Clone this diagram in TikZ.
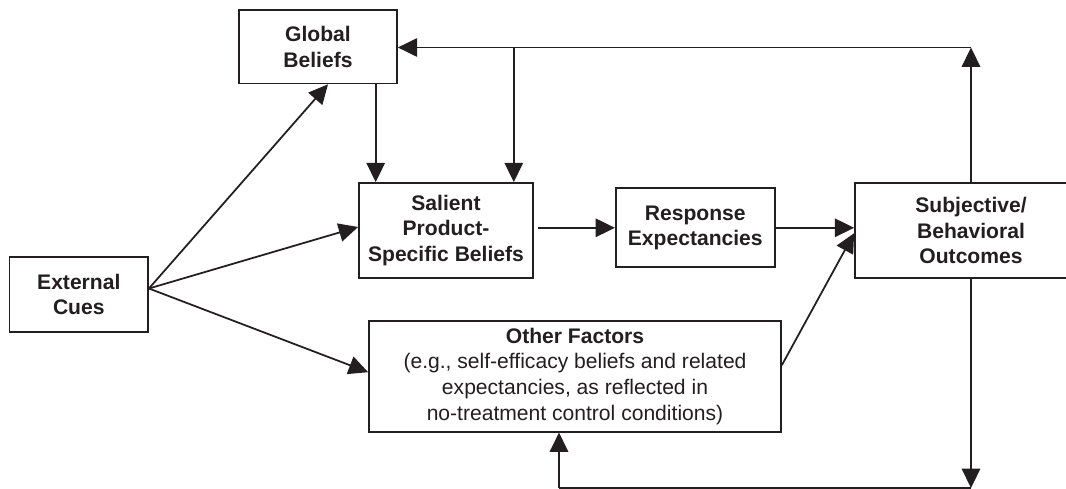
\documentclass[tikz,border=0pt]{standalone}
\usepackage{fontspec}
\setmainfont{Liberation Sans}
\usetikzlibrary{arrows.meta,calc}
\definecolor{ink}{HTML}{231F20}
\begin{document}
\begin{tikzpicture}[x=0.02cm,y=-0.02cm,
  box/.style={draw=ink,line width=1pt,inner sep=0pt,align=center,text=ink,
    font=\fontsize{12}{14.6}\selectfont},
  boldbox/.style={box,font=\fontsize{12}{14.6}\selectfont\bfseries},
  arr/.style={draw=ink,line width=1pt,-{Triangle[length=11pt,width=10.5pt]}},
  ln/.style={draw=ink,line width=1pt}]
\useasboundingbox (0,0) rectangle (1066,489);
\fill[white] (0,0) rectangle (1066,489);
\clip (0,0) rectangle (1066,489);
% nodes
\node[boldbox,minimum width=3.16cm,minimum height=1.47cm] (glob) at (318,46.7) {Global\\Beliefs};
\node[boldbox,minimum width=3.48cm,minimum height=1.9cm] (sal) at (446,230.5) {Salient\\Product-\\Specific Beliefs};
\node[boldbox,minimum width=2.77cm,minimum height=1.49cm] (ext) at (78.8,294.5) {External\\Cues};
\node[boldbox,minimum width=3.18cm,minimum height=1.58cm] (resp) at (695.3,227.8) {Response\\Expectancies};
\node[boldbox,minimum width=4.64cm,minimum height=1.9cm] (subj) at (971,230.7) {Subjective/\\Behavioral\\Outcomes};
\node[box,minimum width=8.24cm,minimum height=2.22cm] (other) at (575,376.2)
  {\textbf{Other Factors}\\(e.g., self-efficacy beliefs and related\\expectancies, as reflected in\\no-treatment control conditions)};
% helper coordinates
\coordinate (gx) at (375.7,0);
\coordinate (tr) at (971,47.5);
\coordinate (tj) at (513.8,47.5);
\coordinate (br) at (971,488);
\coordinate (bl) at (559,488);
% connectors from External Cues
\draw[arr] ([yshift=0.12cm]ext.east) -- ([xshift=0.2cm]glob.south);
\draw[arr] ([yshift=0.12cm]ext.east) -- ([yshift=0.07cm]sal.west);
\draw[arr] ([yshift=0.12cm]ext.east) -- ([yshift=0.08cm]other.west);
% Global -> Salient
\draw[arr] (glob.south -| gx) -- (sal.north -| gx);
% feedback loop at top
\draw[arr] (subj.north) -- (tr);
\draw[arr] (tr) -- (tr -| glob.east);
\draw[arr] (tj) -- (tj |- sal.north);
% main chain
\draw[arr] ([xshift=0.08cm]sal.east |- resp.west) -- (resp.west);
\draw[arr] (resp.east) -- (subj.west |- resp.east);
\draw[arr] ([yshift=0.22cm]other.east) -- ([yshift=-0.05cm]subj.west);
% feedback loop at bottom
\draw[arr] (subj.south) -- (br);
\draw[ln] (br) -- (bl);
\draw[arr] (bl) -- (bl |- other.south);
\end{tikzpicture}
\end{document}
